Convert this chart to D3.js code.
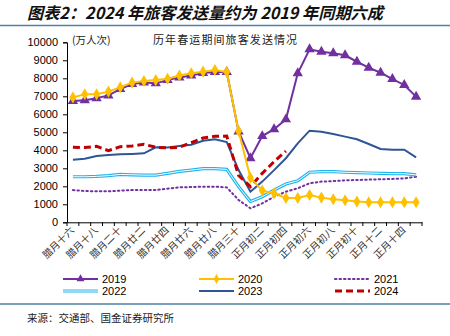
<!DOCTYPE html>
<html><head><meta charset="utf-8">
<script src="https://cdn.jsdelivr.net/npm/d3@7/dist/d3.min.js"></script>
<style>body{margin:0;background:#fff}svg{display:block}</style>
</head><body><svg id="c" width="450" height="336"></svg>
<script>
const categories = ["腊月十六","腊月十七","腊月十八","腊月十九","腊月二十","腊月廿一","腊月廿二","腊月廿三","腊月廿四","腊月廿五","腊月廿六","腊月廿七","腊月廿八","腊月廿九","腊月三十",
"正月初一","正月初二","正月初三","正月初四","正月初五","正月初六","正月初七","正月初八","正月初九","正月初十","正月十一","正月十二","正月十三","正月十四","正月十五"];
const v2019 = [6740,6780,6890,7050,7400,7680,7760,7720,7900,8050,8160,8300,8350,8350,5050,3560,4790,5170,5720,8280,9610,9480,9390,9280,8920,8590,8310,7960,7630,6980];
const v2020 = [6940,7110,7110,7260,7500,7760,7850,7900,7980,8150,8280,8370,8460,8350,5070,2480,1760,1610,1350,1350,1520,1370,1280,1220,1150,1110,1110,1110,1110,1110];
const v2021 = [1790,1740,1720,1720,1760,1790,1790,1790,1870,1940,1960,1980,1980,1940,1240,780,1050,1420,1700,1890,2170,2260,2290,2330,2350,2370,2390,2410,2440,2530];
const v2022 = [2530,2530,2550,2590,2660,2640,2620,2620,2720,2830,2900,2980,2980,2940,1980,1150,1420,1790,2130,2310,2780,2810,2810,2780,2760,2740,2720,2700,2700,2630];
const v2023 = [3480,3530,3680,3740,3780,3800,3830,4170,4150,4240,4310,4530,4610,4460,2900,1700,2260,2900,3560,4390,5090,5030,4900,4760,4610,4350,4070,4030,4030,3610];
const v2024 = [4170,4150,4220,3980,4200,4240,4330,4170,4130,4170,4420,4680,4780,4790,2600,1980,2720,3370,3960];
const yTicks = [0,1000,2000,3000,4000,5000,6000,7000,8000,9000,10000];
const legendNames = ["2019","2020","2021","2022","2023","2024"];

const svg = d3.select("#c");
const x = d3.scaleBand().domain(categories).range([67,422]).padding(0);
const y = d3.scaleLinear().domain([0,10000]).range([222.3,42.3]);
const cx = (c)=> x(c)+x.bandwidth()/2;

// title
svg.append("text").attr("x",27).attr("y",19)
  .attr("font-family","'Noto Sans CJK SC'").attr("font-weight","bold").attr("font-style","italic")
  .attr("font-size",16.2).attr("fill","#111").text("图表2：2024 年旅客发送量约为 2019 年同期六成");
svg.append("line").attr("x1",0).attr("x2",450).attr("y1",25.5).attr("y2",25.5).attr("stroke","#4f81a6").attr("stroke-width",1.5);

svg.append("text").attr("x",72).attr("y",44).attr("font-family","'Noto Sans CJK SC'").attr("font-size",10.5).attr("fill","#222").text("(万人次)");
svg.append("text").attr("x",153).attr("y",44).attr("font-family","'Noto Sans CJK SC'").attr("font-size",11).attr("letter-spacing",1.1).attr("fill","#222").text("历年春运期间旅客发送情况");

// y axis
const ya = svg.append("g").attr("transform","translate(67,0)").call(d3.axisLeft(y).tickValues(yTicks).tickSize(4).tickFormat(d3.format("d")));
ya.select(".domain").attr("stroke","#000");
ya.selectAll("line").attr("stroke","#000");
ya.selectAll("text").attr("font-family","'Liberation Sans',Arial").attr("font-size",11).attr("fill","#000").attr("dx",-2);

// x axis
const xa = svg.append("g").attr("transform","translate(0,222.3)").call(d3.axisBottom(x).tickSize(0).tickFormat(""));
xa.select(".domain").attr("stroke","#000");
const bounds = d3.range(categories.length+1);
svg.append("g").selectAll("line").data(bounds).join("line")
  .attr("x1",d=>x.range()[0]+d*x.step()).attr("x2",d=>x.range()[0]+d*x.step())
  .attr("y1",222.3).attr("y2",226).attr("stroke","#000");
svg.append("g").selectAll("text").data(categories.filter((c,i)=>i%2===0)).join("text")
  .attr("transform",d=>`translate(${cx(d)+2},${231}) rotate(-45)`)
  .attr("text-anchor","end").attr("font-family","'Noto Sans CJK SC'").attr("font-size",10).attr("fill","#333").text(d=>d);

const line = d3.line().x((d,i)=>cx(categories[i])).y(d=>y(d));
const g = svg.append("g");
// 2021 dotted
g.append("path").attr("d",line(v2021)).attr("fill","none").attr("stroke","#7030a0").attr("stroke-width",2).attr("stroke-dasharray","1.5,3").attr("stroke-linecap","round");
// 2022 double
g.append("path").attr("d",line(v2022)).attr("fill","none").attr("stroke","#1eb4ee").attr("stroke-width",3.2);
g.append("path").attr("d",line(v2022)).attr("fill","none").attr("stroke","#fff").attr("stroke-width",1);
// 2023
g.append("path").attr("d",line(v2023)).attr("fill","none").attr("stroke","#2f5597").attr("stroke-width",2);
// 2024 dashed
g.append("path").attr("d",line(v2024)).attr("fill","none").attr("stroke","#c00000").attr("stroke-width",3).attr("stroke-dasharray","7,4");
// 2019
g.append("path").attr("d",line(v2019)).attr("fill","none").attr("stroke","#7030a0").attr("stroke-width",2);
const tri = d3.symbol().type(d3.symbolTriangle).size(46);
g.selectAll(".t").data(v2019).join("path").attr("d",tri)
  .attr("transform",(d,i)=>`translate(${cx(categories[i])},${y(d)})`).attr("fill","#7030a0");
// 2020
g.append("path").attr("d",line(v2020)).attr("fill","none").attr("stroke","#ffc000").attr("stroke-width",2);
const dia = d3.symbol().type(d3.symbolDiamond).size(42);
g.selectAll(".dm").data(v2020).join("path").attr("d",dia)
  .attr("transform",(d,i)=>`translate(${cx(categories[i])},${y(d)})`).attr("fill","#ffc000");

// legend
const lg = svg.append("g");
const cols = [63,199,335], rows = [279,291];
const styles = [
  {stroke:"#7030a0",w:2,dash:null,mark:"tri"},
  {stroke:"#ffc000",w:2,dash:null,mark:"dia"},
  {stroke:"#7030a0",w:2,dash:"1.5,3",mark:null},
  {stroke:"#1eb4ee",w:3.2,dash:null,mark:null,dbl:true},
  {stroke:"#2f5597",w:2,dash:null,mark:null},
  {stroke:"#c00000",w:3,dash:"7,4",mark:null}];
legendNames.forEach((n,i)=>{
  const lx = cols[i%3], ly = rows[Math.floor(i/3)], s = styles[i];
  lg.append("line").attr("x1",lx).attr("x2",lx+35).attr("y1",ly).attr("y2",ly).attr("stroke",s.stroke).attr("stroke-width",s.w)
    .attr("stroke-dasharray",s.dash).attr("stroke-linecap",s.dash&&s.dash.startsWith("1.5")?"round":"butt");
  if(s.dbl) lg.append("line").attr("x1",lx).attr("x2",lx+35).attr("y1",ly).attr("y2",ly).attr("stroke","#fff").attr("stroke-width",1);
  if(s.mark==="tri") lg.append("path").attr("d",d3.symbol().type(d3.symbolTriangle).size(28)).attr("transform",`translate(${lx+17.5},${ly})`).attr("fill",s.stroke);
  if(s.mark==="dia") lg.append("path").attr("d",d3.symbol().type(d3.symbolDiamond).size(28)).attr("transform",`translate(${lx+17.5},${ly})`).attr("fill",s.stroke);
  lg.append("text").attr("x",lx+39).attr("y",ly+4).attr("font-family","'Liberation Sans',Arial").attr("font-size",11).attr("fill","#000").text(n);
});

svg.append("line").attr("x1",0).attr("x2",450).attr("y1",304).attr("y2",304).attr("stroke","#4f81a6").attr("stroke-width",1.5);
svg.append("text").attr("x",27).attr("y",322).attr("font-family","'Noto Sans CJK SC'").attr("font-size",10.5).attr("fill","#222").text("来源：交通部、国金证券研究所");
</script></body></html>
